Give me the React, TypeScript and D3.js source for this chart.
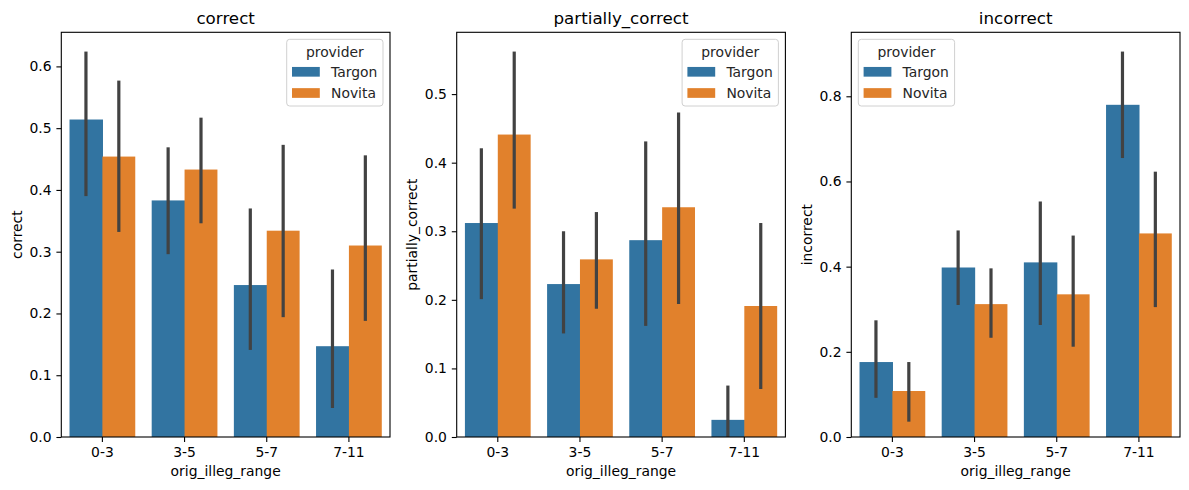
import React, { useEffect, useRef } from 'react';
import * as d3 from 'd3';

const categories = ['0-3', '3-5', '5-7', '7-11'];
const providers = ['Targon', 'Novita'];
const providerColors = ['#3274a1', '#e1812c'];

// correct
const correctTargon = [0.514, 0.383, 0.246, 0.147];
const correctNovita = [0.454, 0.433, 0.334, 0.310];
const correctTargonLo = [0.390, 0.296, 0.141, 0.047];
const correctTargonHi = [0.624, 0.469, 0.370, 0.271];
const correctNovitaLo = [0.332, 0.346, 0.194, 0.188];
const correctNovitaHi = [0.577, 0.517, 0.473, 0.456];

// partially_correct
const partialTargon = [0.312, 0.223, 0.287, 0.025];
const partialNovita = [0.441, 0.259, 0.335, 0.191];
const partialTargonLo = [0.201, 0.151, 0.162, 0.0];
const partialTargonHi = [0.421, 0.300, 0.431, 0.075];
const partialNovitaLo = [0.333, 0.187, 0.194, 0.070];
const partialNovitaHi = [0.562, 0.328, 0.473, 0.312];

// incorrect
const incorrectTargon = [0.176, 0.398, 0.410, 0.780];
const incorrectNovita = [0.108, 0.312, 0.335, 0.478];
const incorrectTargonLo = [0.092, 0.310, 0.263, 0.655];
const incorrectTargonHi = [0.274, 0.485, 0.553, 0.905];
const incorrectNovitaLo = [0.036, 0.233, 0.212, 0.305];
const incorrectNovitaHi = [0.176, 0.396, 0.473, 0.623];

const correctTicks = [0, 0.1, 0.2, 0.3, 0.4, 0.5, 0.6];
const partialTicks = [0, 0.1, 0.2, 0.3, 0.4, 0.5];
const incorrectTicks = [0, 0.2, 0.4, 0.6, 0.8];

interface Panel {
  name: string;
  values: number[][];
  lo: number[][];
  hi: number[][];
  ticks: number[];
  legendLeft: boolean;
}

const panels: Panel[] = [
  {
    name: 'correct',
    values: [correctTargon, correctNovita],
    lo: [correctTargonLo, correctNovitaLo],
    hi: [correctTargonHi, correctNovitaHi],
    ticks: correctTicks,
    legendLeft: false,
  },
  {
    name: 'partially_correct',
    values: [partialTargon, partialNovita],
    lo: [partialTargonLo, partialNovitaLo],
    hi: [partialTargonHi, partialNovitaHi],
    ticks: partialTicks,
    legendLeft: false,
  },
  {
    name: 'incorrect',
    values: [incorrectTargon, incorrectNovita],
    lo: [incorrectTargonLo, incorrectNovitaLo],
    hi: [incorrectTargonHi, incorrectNovitaHi],
    ticks: incorrectTicks,
    legendLeft: true,
  },
];

export default function App() {
  const svgRef = useRef<SVGSVGElement>(null);

  useEffect(() => {
    if (!svgRef.current) return;
    const root = d3.select(svgRef.current);
    root.selectAll('*').remove();

    const font = "'DejaVu Sans', sans-serif";
    const lefts = [61.3, 456.7, 851.3];
    const top = 32.3;
    const bottom = 437;
    const w = 328.7;
    const h = bottom - top;

    panels.forEach((p, pi) => {
      const g = root.append('g').attr('transform', `translate(${lefts[pi]},${top})`);

      const maxHi = d3.max(p.hi.flat()) || 1;
      const y = d3.scaleLinear().domain([0, maxHi * 1.05]).range([h, 0]);
      const x = d3.scaleBand().domain(categories).range([0, w]).paddingInner(0.2).paddingOuter(0.1);
      const xh = d3.scaleBand().domain(providers).range([0, x.bandwidth()]);

      // bars (slight overlap hides the seam between neighbours)
      providers.forEach((prov, si) => {
        g.selectAll(null)
          .data(categories)
          .enter()
          .append('rect')
          .attr('x', c => (x(c) || 0) + (xh(prov) || 0))
          .attr('width', xh.bandwidth() + (si === 0 ? 0.6 : 0))
          .attr('y', (_, i) => y(p.values[si][i]))
          .attr('height', (_, i) => h - y(p.values[si][i]))
          .attr('fill', providerColors[si]);
      });

      // error bars
      providers.forEach((prov, si) => {
        g.selectAll(null)
          .data(categories)
          .enter()
          .append('line')
          .attr('x1', c => (x(c) || 0) + (xh(prov) || 0) + xh.bandwidth() / 2)
          .attr('x2', c => (x(c) || 0) + (xh(prov) || 0) + xh.bandwidth() / 2)
          .attr('y1', (_, i) => y(p.lo[si][i]))
          .attr('y2', (_, i) => y(p.hi[si][i]))
          .attr('stroke', '#424242')
          .attr('stroke-width', 3.2);
      });

      // x axis
      const xAxis = g.append('g')
        .attr('transform', `translate(0,${h})`)
        .call(d3.axisBottom(x).tickSize(4.9).tickPadding(4.9).tickSizeOuter(0));
      xAxis.select('.domain').remove();
      xAxis.selectAll('line').attr('stroke', '#000').attr('stroke-width', 1.1);
      xAxis.selectAll('text').attr('font-family', font).attr('font-size', 13.9).attr('fill', '#000');

      // y axis
      const yAxis = g.append('g')
        .call(d3.axisLeft(y).tickValues(p.ticks).tickFormat(d3.format('.1f')).tickSize(4.9).tickPadding(4.9).tickSizeOuter(0));
      yAxis.select('.domain').remove();
      yAxis.selectAll('line').attr('stroke', '#000').attr('stroke-width', 1.1);
      yAxis.selectAll('text').attr('font-family', font).attr('font-size', 13.9).attr('fill', '#000');

      // frame
      g.append('rect')
        .attr('width', w)
        .attr('height', h)
        .attr('fill', 'none')
        .attr('stroke', '#000')
        .attr('stroke-width', 1.1);

      // title and labels
      g.append('text')
        .attr('x', w / 2)
        .attr('y', -8.6)
        .attr('text-anchor', 'middle')
        .attr('font-family', font)
        .attr('font-size', 16.7)
        .text(p.name);

      g.append('text')
        .attr('x', w / 2)
        .attr('y', h + 39.5)
        .attr('text-anchor', 'middle')
        .attr('font-family', font)
        .attr('font-size', 13.9)
        .text('orig_illeg_range');

      g.append('text')
        .attr('transform', `translate(-44.5,${h / 2}) rotate(-90)`)
        .attr('text-anchor', 'middle')
        .attr('dominant-baseline', 'central')
        .attr('font-family', font)
        .attr('font-size', 13.9)
        .text(p.name);

      // legend
      const lw = 96.3;
      const lh = 66.7;
      const lx = p.legendLeft ? 7 : w - 7 - lw;
      const legend = g.append('g').attr('transform', `translate(${lx},7)`);
      legend.append('rect')
        .attr('width', lw)
        .attr('height', lh)
        .attr('rx', 3)
        .attr('fill', 'rgba(255,255,255,0.8)')
        .attr('stroke', '#d0d0d0')
        .attr('stroke-width', 1);
      legend.append('text')
        .attr('x', lw / 2)
        .attr('y', 12.4)
        .attr('text-anchor', 'middle')
        .attr('dominant-baseline', 'central')
        .attr('font-family', font)
        .attr('font-size', 13.9)
        .attr('fill', '#262626')
        .text('provider');
      providers.forEach((prov, si) => {
        const cy = 32.5 + si * 21.2;
        legend.append('rect')
          .attr('x', 5.3)
          .attr('y', cy - 4.85)
          .attr('width', 27.8)
          .attr('height', 9.7)
          .attr('fill', providerColors[si]);
        legend.append('text')
          .attr('x', 44.3)
          .attr('y', cy)
          .attr('dominant-baseline', 'central')
          .attr('font-family', font)
          .attr('font-size', 13.9)
          .attr('fill', '#262626')
          .text(prov);
      });
    });
  }, []);

  return (
    <svg
      ref={svgRef}
      width={1189}
      height={490}
      style={{ position: 'absolute', left: 0, top: 0, background: '#fff' }}
    ></svg>
  );
}
